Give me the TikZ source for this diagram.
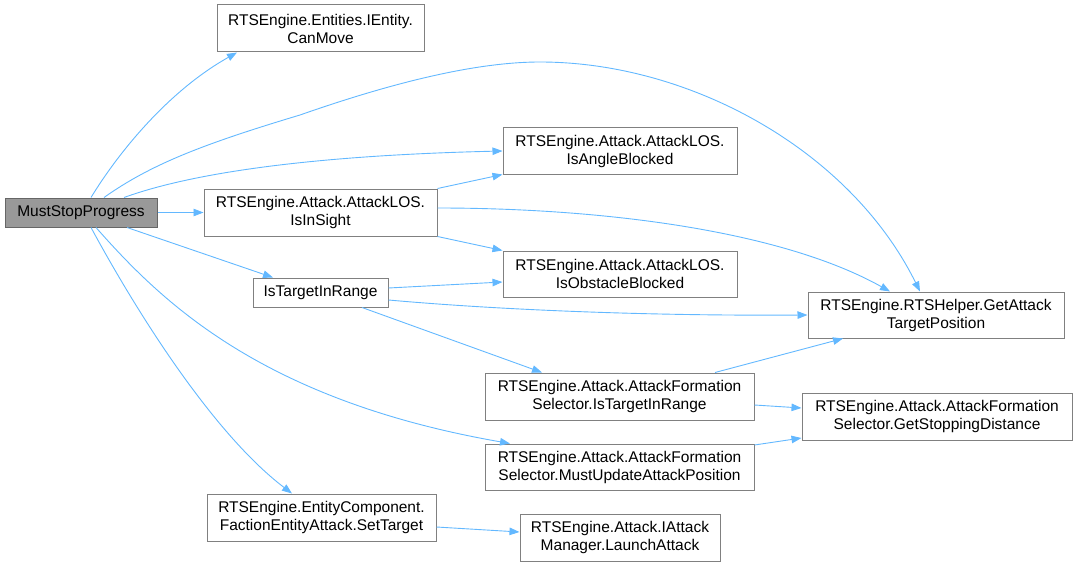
\documentclass[tikz,border=0pt]{standalone}
\usepackage{fontspec}
\setmainfont{Liberation Sans}
\usetikzlibrary{arrows.meta}
\definecolor{edgeblue}{HTML}{63B8FF}
\definecolor{boxborder}{HTML}{808080}
\definecolor{rootfill}{HTML}{999999}
\definecolor{rootborder}{HTML}{666666}
\begin{document}
\begin{tikzpicture}[x=1pt,y=-1pt,
  box/.style={draw=boxborder, line width=1pt, fill=white, inner sep=0pt, align=center,
    font=\fontsize{15.5}{18}\selectfont},
  rootbox/.style={box, draw=rootborder, fill=rootfill},
  edge/.style={draw=edgeblue, line width=0.9pt, -{Triangle[length=10pt,width=7.5pt]}}]
\useasboundingbox (0,0) rectangle (1076,567);

\node[rootbox, minimum width=152pt, minimum height=29pt] (msp) at (81,212.5) {MustStopProgress};
\node[box, minimum width=207pt, minimum height=47pt] (canmove) at (320.5,28.5) {RTSEngine.Entities.IEntity.\\CanMove};
\node[box, minimum width=233pt, minimum height=47pt] (insight) at (320.5,212.5) {RTSEngine.Attack.AttackLOS.\\IsInSight};
\node[box, minimum width=135pt, minimum height=29pt] (tir) at (320.5,292.5) {IsTargetInRange};
\node[box, minimum width=234pt, minimum height=46pt] (angle) at (620,151) {RTSEngine.Attack.AttackLOS.\\IsAngleBlocked};
\node[box, minimum width=234pt, minimum height=46pt] (obstacle) at (620,274) {RTSEngine.Attack.AttackLOS.\\IsObstacleBlocked};
\node[box, minimum width=256pt, minimum height=46pt] (gatp) at (936,315) {RTSEngine.RTSHelper.GetAttack\\TargetPosition};
\node[box, minimum width=269pt, minimum height=47pt] (afstir) at (619.5,396.5) {RTSEngine.Attack.AttackFormation\\Selector.IsTargetInRange};
\node[box, minimum width=270pt, minimum height=47pt] (gsd) at (937,416.5) {RTSEngine.Attack.AttackFormation\\Selector.GetStoppingDistance};
\node[box, minimum width=269pt, minimum height=46pt] (mup) at (619.5,467) {RTSEngine.Attack.AttackFormation\\Selector.MustUpdateAttackPosition};
\node[box, minimum width=229pt, minimum height=47pt] (settarget) at (321.5,517.5) {RTSEngine.EntityComponent.\\FactionEntityAttack.SetTarget};
\node[box, minimum width=200pt, minimum height=47pt] (launch) at (620,537.5) {RTSEngine.Attack.IAttack\\Manager.LaunchAttack};

% edges from MustStopProgress
\draw[edge] ([xshift=10pt]msp.north) .. controls (120,150) and (170,90) .. ([xshift=-83.5pt]canmove.south);
\draw[edge] ([xshift=23pt]msp.north) .. controls (150,165) and (200,145) .. (300,115)
   .. controls (400,80) and (480,62) .. (540,62)
   .. controls (690,62) and (850,150) .. ([xshift=-16pt]gatp.north);
\draw[edge] ([xshift=43pt]msp.north) .. controls (200,170) and (330,155) .. (angle.west);
\draw[edge] (msp.east) -- (insight.west);
\draw[edge] ([xshift=46pt]msp.south) -- ([xshift=-47.5pt]tir.north);
\draw[edge] ([xshift=15pt]msp.south) .. controls (160,300) and (260,400) .. ([xshift=-109.5pt]mup.north);
\draw[edge] ([xshift=10pt]msp.south) .. controls (140,318) and (215,435) .. ([xshift=-29.5pt]settarget.north);

% edges from IsInSight
\draw[edge] (insight.north east) -- (angle.south west);
\draw[edge] ([yshift=4.5pt]insight.east) .. controls (600,208) and (780,230) .. ([xshift=-46pt]gatp.north);
\draw[edge] (insight.south east) -- (obstacle.north west);

% edges from IsTargetInRange
\draw[edge] ([yshift=4.5pt]tir.east) -- ([yshift=-8pt]obstacle.west);
\draw[edge] ([yshift=-7.5pt]tir.east) .. controls (500,310) and (650,316) .. (gatp.west);
\draw[edge] ([xshift=41.5pt]tir.south) -- ([xshift=-77.5pt]afstir.north);

% edges from AttackFormationSelector nodes
\draw[edge] ([xshift=95.5pt]afstir.north) -- ([xshift=-93pt]gatp.south);
\draw[edge] ([yshift=-8.5pt]afstir.east) -- ([yshift=8.5pt]gsd.west);
\draw[edge] ([yshift=22pt]mup.east) -- ([yshift=-21.5pt]gsd.west);

% SetTarget -> LaunchAttack
\draw[edge] ([yshift=-9.5pt]settarget.east) -- ([yshift=5.5pt]launch.west);
\end{tikzpicture}
\end{document}
